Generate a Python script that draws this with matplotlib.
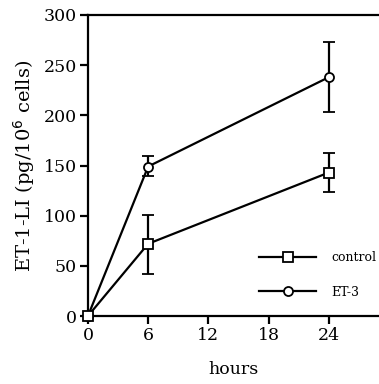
import matplotlib.pyplot as plt
from matplotlib.lines import Line2D

hours = [0, 6, 24]
control = [0, 72, 143]
control_err_lo = [0, 30, 19]
control_err_hi = [0, 29, 19]
et3 = [0, 149, 238]
et3_err_lo = [0, 9, 35]
et3_err_hi = [0, 10, 35]

plt.rcParams['font.family'] = ['DejaVu Serif']

fig = plt.figure(figsize=(3.79, 3.84), dpi=100)
ax = fig.add_axes([0.232, 0.177, 0.768, 0.784])

style = dict(color='black', markersize=6.5, markerfacecolor='white', markeredgewidth=1.3,
             linewidth=1.6, capsize=4, elinewidth=1.6, capthick=1.6, clip_on=False, zorder=4)
ax.errorbar(hours, et3, yerr=[et3_err_lo, et3_err_hi], marker='o', **style)
ax.errorbar(hours, control, yerr=[control_err_lo, control_err_hi], marker='s', **style)

ax.set_xlim(0, 29)
ax.set_ylim(0, 300)
ax.set_xticks([0, 6, 12, 18, 24])
ax.set_yticks([0, 50, 100, 150, 200, 250, 300])
ax.spines['right'].set_visible(False)
for s in ['left', 'top', 'bottom']:
    ax.spines[s].set_linewidth(1.6)
ax.tick_params(direction='out', length=6, width=1.6, labelsize=12.5, pad=2)

ax.set_ylabel('ET-1-LI (pg/10$^6$ cells)', fontsize=14, labelpad=5)
ax.set_xlabel('hours', fontsize=12.5, labelpad=12)

handles = [Line2D([], [], color='black', marker='s', markersize=6.5, markerfacecolor='white',
                  markeredgewidth=1.3, linewidth=1.6),
           Line2D([], [], color='black', marker='o', markersize=6.5, markerfacecolor='white',
                  markeredgewidth=1.3, linewidth=1.6)]
ax.legend(handles, ['control', 'ET-3'], loc='lower right', bbox_to_anchor=(1.03, 0.02),
          frameon=False, fontsize=9, handlelength=4.6, labelspacing=1.75, handletextpad=1.2)

fig.savefig('out.png', dpi=100)
